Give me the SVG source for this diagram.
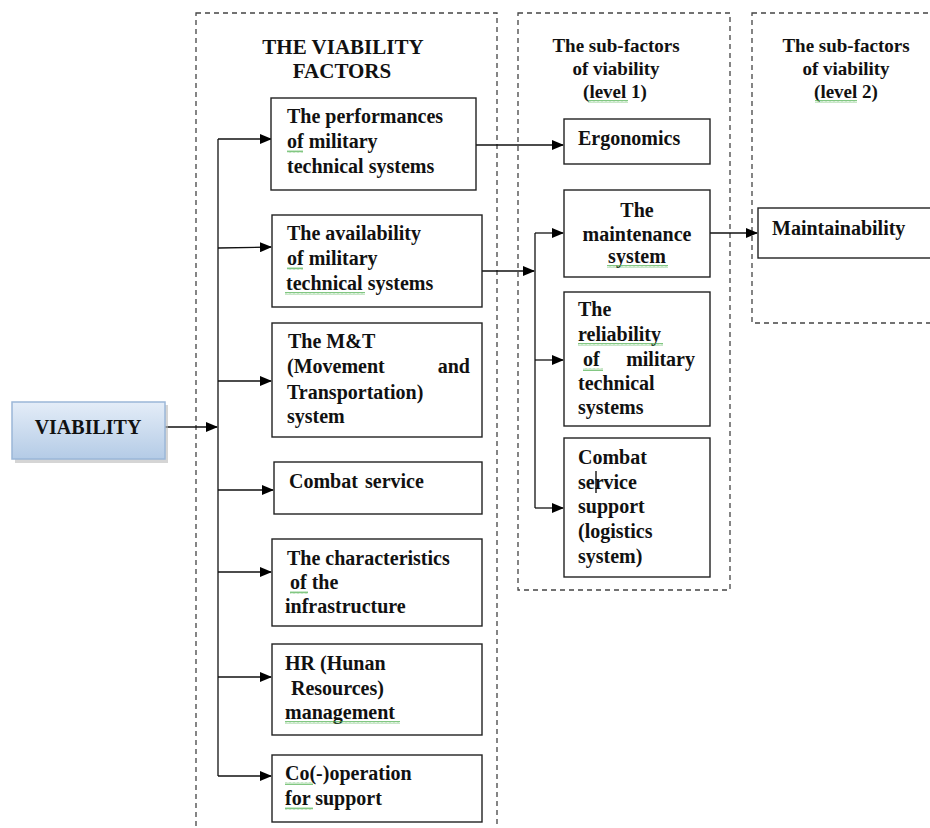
<svg xmlns="http://www.w3.org/2000/svg" width="930" height="828" viewBox="0 0 930 828">
<defs>
<marker id="ah" markerUnits="userSpaceOnUse" markerWidth="12" markerHeight="10" refX="11" refY="5" orient="auto">
<path d="M0,0 L12,5 L0,10 Z" fill="#000"/>
</marker>
<linearGradient id="vg" x1="0" y1="0" x2="0" y2="1">
<stop offset="0" stop-color="#e4edf8"/>
<stop offset="1" stop-color="#b4cbe6"/>
</linearGradient>
<pattern id="sq" width="4" height="3" patternUnits="userSpaceOnUse">
<path d="M0,2.5 L1,0.5 L2,2.5 L3,0.5 L4,2.5" fill="none" stroke="#4caf4c" stroke-width="0.7"/>
</pattern>
</defs>
<style>
.t{font-family:"Liberation Serif","Times New Roman",serif;font-weight:bold;font-size:20px;fill:#111}
.h{font-family:"Liberation Serif","Times New Roman",serif;font-weight:bold;font-size:19px;fill:#111;text-anchor:middle}
.ti{font-size:21px}
.box{fill:#fff;stroke:#222;stroke-width:1.4}
.dash{fill:none;stroke:#444;stroke-width:1.3;stroke-dasharray:5,4}
.c{fill:none;stroke:#111;stroke-width:1.3}
.a{fill:none;stroke:#111;stroke-width:1.3;marker-end:url(#ah)}
.sq{fill:url(#sq)}
</style>
<rect width="930" height="828" fill="#fff"/>

<g id="frames">
<rect class="dash" x="196" y="13" width="301" height="830"/>
<rect class="dash" x="518" y="13" width="212" height="577"/>
<rect class="dash" x="752" y="13" width="200" height="310"/>
</g>

<g id="headers">
<text class="h ti" x="343" y="54">THE VIABILITY</text>
<text class="h ti" x="342" y="78">FACTORS</text>
<text class="h" x="616" y="52">The sub-factors</text>
<text class="h" x="616" y="75">of viability</text>
<text class="h" x="615" y="98">(level 1)</text>
<rect class="sq" x="588" y="100" width="40" height="3"/>
<text class="h" x="846" y="52">The sub-factors</text>
<text class="h" x="846" y="75">of viability</text>
<text class="h" x="846" y="98">(level 2)</text>
<rect class="sq" x="815" y="100" width="42" height="3"/>
</g>

<g id="connectors">
<line class="a" x1="165" y1="427" x2="217" y2="427"/>
<line class="c" x1="218" y1="139" x2="218" y2="776"/>
<line class="a" x1="218" y1="139" x2="271" y2="139"/>
<line class="a" x1="218" y1="248" x2="271" y2="247"/>
<line class="a" x1="218" y1="381" x2="271" y2="381"/>
<line class="a" x1="218" y1="490" x2="273" y2="490"/>
<line class="a" x1="218" y1="572" x2="271" y2="572"/>
<line class="a" x1="218" y1="677" x2="271" y2="677"/>
<line class="a" x1="218" y1="776" x2="271" y2="776"/>
<line class="a" x1="476" y1="145" x2="563" y2="145"/>
<line class="a" x1="482" y1="271" x2="534" y2="271"/>
<line class="c" x1="535" y1="233" x2="535" y2="508"/>
<line class="a" x1="535" y1="233" x2="563" y2="233"/>
<line class="a" x1="535" y1="360" x2="563" y2="360"/>
<line class="a" x1="535" y1="508" x2="563" y2="508"/>
<line class="a" x1="710" y1="233" x2="757" y2="233"/>
</g>

<g id="viability">
<rect x="15" y="405" width="153" height="58" fill="#b9b9b9" opacity="0.6"/>
<rect x="12" y="402" width="153" height="57" fill="url(#vg)" stroke="#9bb7d8" stroke-width="1.5"/>
<text class="t" x="88" y="434" text-anchor="middle">VIABILITY</text>
</g>

<g id="f-performances">
<rect class="box" x="271" y="98" width="205" height="92"/>
<text class="t" x="287" y="123">The performances</text>
<text class="t" x="287" y="148">of military</text>
<text class="t" x="287" y="173">technical systems</text>
<rect class="sq" x="287" y="150" width="16" height="3"/>
</g>

<g id="f-availability">
<rect class="box" x="272" y="215" width="210" height="92"/>
<text class="t" x="287" y="240">The availability</text>
<text class="t" x="287" y="265">of military</text>
<text class="t" x="286" y="290">technical systems</text>
<rect class="sq" x="287" y="267" width="16" height="3"/>
<rect class="sq" x="285" y="292" width="80" height="3"/>
</g>

<g id="f-mt">
<rect class="box" x="272" y="323" width="210" height="114"/>
<text class="t" x="288" y="348">The M&amp;T</text>
<text class="t" x="287" y="373">(Movement</text>
<text class="t" x="470" y="373" text-anchor="end">and</text>
<text class="t" x="287" y="399">Transportation)</text>
<text class="t" x="287" y="423">system</text>
</g>

<g id="f-combat">
<rect class="box" x="274" y="462" width="208" height="52"/>
<text class="t" x="289" y="488">Combat</text>
<text class="t" x="365" y="488">service</text>
</g>

<g id="f-infra">
<rect class="box" x="272" y="539" width="210" height="87"/>
<text class="t" x="287" y="565">The characteristics</text>
<text class="t" x="290" y="589">of the</text>
<text class="t" x="285" y="613">infrastructure</text>
<rect class="sq" x="290" y="591" width="18" height="3"/>
</g>

<g id="f-hr">
<rect class="box" x="272" y="644" width="210" height="91"/>
<text class="t" x="285" y="670">HR (Hunan</text>
<text class="t" x="291" y="695">Resources)</text>
<text class="t" x="285" y="719">management</text>
<rect class="sq" x="285" y="721" width="115" height="3"/>
</g>

<g id="f-coop">
<rect class="box" x="272" y="755" width="210" height="67"/>
<text class="t" x="285" y="780">Co(-)operation</text>
<text class="t" x="285" y="805">for support</text>
<rect class="sq" x="285" y="782" width="28" height="3"/>
<rect class="sq" x="285" y="807" width="28" height="3"/>
</g>

<g id="s-ergonomics">
<rect class="box" x="564" y="119" width="146" height="45"/>
<text class="t" x="578" y="145">Ergonomics</text>
</g>

<g id="s-maintenance">
<rect class="box" x="564" y="190" width="146" height="87"/>
<text class="t" x="637" y="217" text-anchor="middle">The</text>
<text class="t" x="637" y="241" text-anchor="middle">maintenance</text>
<text class="t" x="637" y="263" text-anchor="middle">system</text>
<rect class="sq" x="607" y="265" width="61" height="3"/>
</g>

<g id="s-reliability">
<rect class="box" x="564" y="292" width="146" height="134"/>
<text class="t" x="578" y="316">The</text>
<text class="t" x="578" y="341">reliability</text>
<text class="t" x="583" y="366">of</text>
<text class="t" x="695" y="366" text-anchor="end">military</text>
<text class="t" x="578" y="390">technical</text>
<text class="t" x="578" y="414">systems</text>
<rect class="sq" x="578" y="343" width="85" height="3"/>
<rect class="sq" x="583" y="368" width="20" height="3"/>
</g>

<g id="s-css">
<rect class="box" x="564" y="438" width="146" height="139"/>
<text class="t" x="578" y="464">Combat</text>
<text class="t" x="578" y="489">service</text>
<text class="t" x="578" y="513">support</text>
<text class="t" x="578" y="538">(logistics</text>
<text class="t" x="578" y="563">system)</text>
<line x1="596" y1="471" x2="596" y2="493" stroke="#000" stroke-width="1.3"/>
</g>

<g id="l2-maintainability">
<rect class="box" x="758" y="208" width="190" height="50"/>
<text class="t" x="772" y="235">Maintainability</text>
</g>
</svg>
